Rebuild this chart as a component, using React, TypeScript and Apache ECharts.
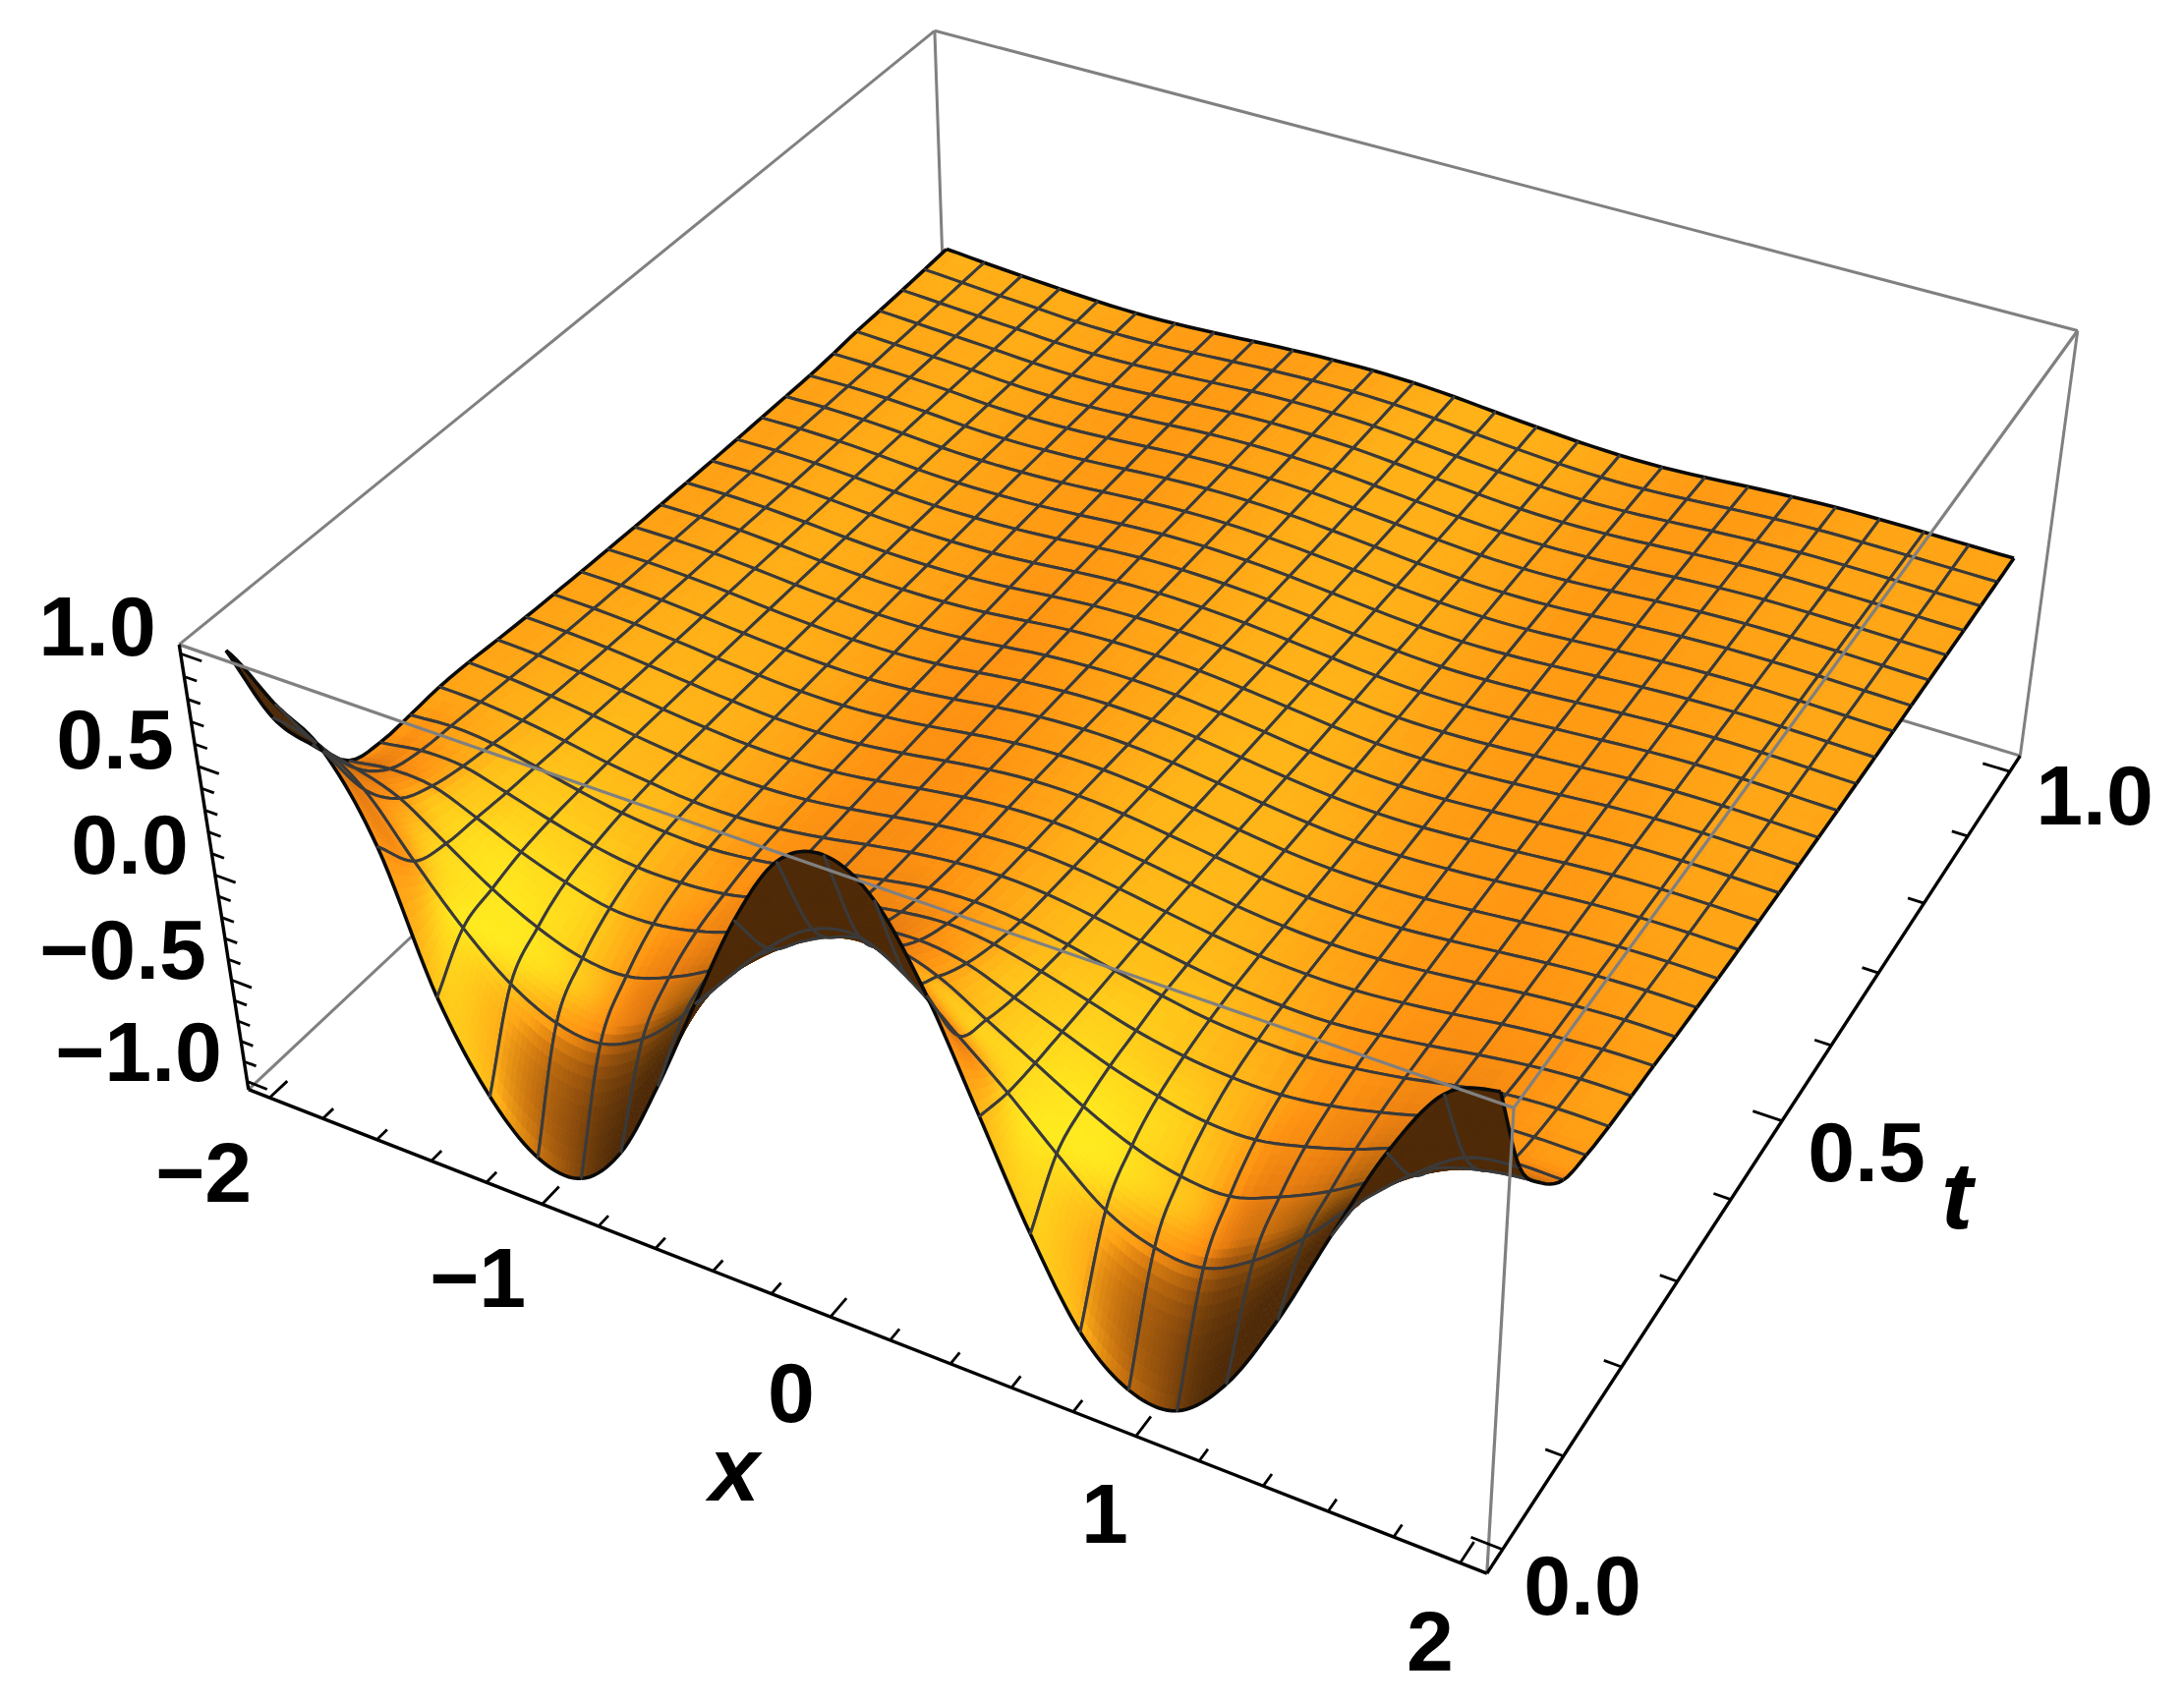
import React, { useEffect, useRef } from "react";
import * as echarts from "echarts";

// mesh positions along x and t
const xValues = [-2, -1.846, -1.692, -1.538, -1.385, -1.231, -1.077, -0.923, -0.769, -0.615, -0.462, -0.308, -0.154, 0, 0.154, 0.308, 0.462, 0.615, 0.769, 0.923, 1.077, 1.231, 1.385, 1.538, 1.692, 1.846, 2];
const tValues = [0, 0.0385, 0.0769, 0.1154, 0.1538, 0.1923, 0.2308, 0.2692, 0.3077, 0.3462, 0.3846, 0.4231, 0.4615, 0.5, 0.5385, 0.5769, 0.6154, 0.6538, 0.6923, 0.7308, 0.7692, 0.8077, 0.8462, 0.8846, 0.9231, 0.9615, 1];

// surface height, one row per t value
const zRows = [
  [0.97, 0.8, 0.66, 0.3, -0.33, -0.73, -0.95, -0.97, -0.76, -0.36, 0.1, 0.55, 0.88, 0.98, 0.86, 0.52, 0.06, -0.4, -0.78, -0.97, -0.98, -0.76, -0.37, 0.1, 0.55, 0.88, 0.97],
  [0.55, 0.5, 0.36, 0.1, -0.14, -0.33, -0.44, -0.46, -0.36, -0.17, 0.07, 0.29, 0.45, 0.49, 0.38, 0.2, 0.02, -0.18, -0.36, -0.45, -0.46, -0.34, -0.15, 0.09, 0.3, 0.46, 0.5],
  [0.3, 0.26, 0.19, 0.05, -0.09, -0.2, -0.27, -0.28, -0.21, -0.1, 0.04, 0.18, 0.28, 0.31, 0.25, 0.13, 0.01, -0.11, -0.21, -0.27, -0.28, -0.2, -0.09, 0.05, 0.18, 0.25, 0.28],
  [0.1, 0.13, 0.12, 0.04, -0.05, -0.12, -0.17, -0.17, -0.13, -0.06, 0.03, 0.11, 0.18, 0.2, 0.17, 0.09, 0.01, -0.07, -0.13, -0.17, -0.17, -0.12, -0.05, 0.04, 0.12, 0.14, 0.14],
  [0.06, 0.09, 0.085, 0.03, -0.03, -0.08, -0.11, -0.11, -0.09, -0.04, 0.02, 0.08, 0.12, 0.14, 0.12, 0.07, 0.01, -0.05, -0.09, -0.11, -0.11, -0.08, -0.03, 0.03, 0.085, 0.1, 0.1],
  [0.065, 0.08, 0.065, 0.025, -0.02, -0.055, -0.075, -0.08, -0.06, -0.025, 0.02, 0.06, 0.095, 0.105, 0.09, 0.055, 0.01, -0.03, -0.065, -0.08, -0.08, -0.055, -0.02, 0.025, 0.065, 0.08, 0.08],
  [0.075, 0.07, 0.05, 0.02, -0.015, -0.04, -0.06, -0.062, -0.048, -0.018, 0.02, 0.055, 0.08, 0.09, 0.078, 0.048, 0.01, -0.025, -0.052, -0.065, -0.065, -0.045, -0.015, 0.02, 0.05, 0.068, 0.07],
  [0.07, 0.06, 0.042, 0.017, -0.012, -0.034, -0.05, -0.052, -0.04, -0.013, 0.02, 0.052, 0.075, 0.083, 0.07, 0.043, 0.009, -0.023, -0.047, -0.058, -0.056, -0.038, -0.012, 0.018, 0.042, 0.058, 0.062],
  [0.058, 0.05, 0.035, 0.014, -0.01, -0.03, -0.044, -0.046, -0.034, -0.008, 0.024, 0.054, 0.074, 0.078, 0.063, 0.036, 0.004, -0.026, -0.047, -0.055, -0.05, -0.032, -0.008, 0.018, 0.038, 0.05, 0.05],
  [0.048, 0.042, 0.03, 0.012, -0.009, -0.027, -0.04, -0.041, -0.029, -0.004, 0.027, 0.055, 0.072, 0.072, 0.056, 0.029, -0.001, -0.029, -0.047, -0.052, -0.045, -0.027, -0.004, 0.018, 0.035, 0.043, 0.042],
  [0.04, 0.036, 0.026, 0.01, -0.009, -0.025, -0.036, -0.037, -0.024, 0, 0.03, 0.055, 0.068, 0.066, 0.049, 0.022, -0.006, -0.032, -0.047, -0.049, -0.04, -0.022, -0.001, 0.019, 0.032, 0.037, 0.035],
  [0.033, 0.031, 0.023, 0.008, -0.009, -0.023, -0.032, -0.032, -0.019, 0.005, 0.033, 0.054, 0.063, 0.059, 0.042, 0.016, -0.011, -0.034, -0.047, -0.046, -0.035, -0.018, 0.002, 0.02, 0.03, 0.033, 0.03],
  [0.027, 0.027, 0.02, 0.007, -0.009, -0.021, -0.028, -0.027, -0.014, 0.01, 0.035, 0.052, 0.058, 0.052, 0.035, 0.01, -0.016, -0.036, -0.046, -0.043, -0.03, -0.014, 0.005, 0.021, 0.028, 0.029, 0.026],
  [0.022, 0.023, 0.018, 0.006, -0.009, -0.02, -0.025, -0.022, -0.009, 0.014, 0.037, 0.05, 0.053, 0.046, 0.028, 0.005, -0.02, -0.038, -0.045, -0.04, -0.026, -0.01, 0.008, 0.022, 0.027, 0.026, 0.022],
  [0.018, 0.02, 0.016, 0.005, -0.009, -0.019, -0.022, -0.018, -0.005, 0.017, 0.038, 0.048, 0.048, 0.04, 0.022, 0, -0.023, -0.039, -0.043, -0.036, -0.022, -0.006, 0.011, 0.022, 0.026, 0.023, 0.019],
  [0.015, 0.018, 0.014, 0.004, -0.009, -0.018, -0.02, -0.015, -0.001, 0.02, 0.038, 0.046, 0.044, 0.034, 0.016, -0.005, -0.026, -0.04, -0.041, -0.033, -0.018, -0.003, 0.013, 0.022, 0.024, 0.021, 0.016],
  [0.012, 0.016, 0.012, 0.003, -0.009, -0.017, -0.018, -0.012, 0.003, 0.022, 0.038, 0.044, 0.04, 0.029, 0.011, -0.009, -0.028, -0.04, -0.04, -0.03, -0.015, 0, 0.014, 0.022, 0.023, 0.018, 0.013],
  [0.01, 0.014, 0.011, 0.002, -0.01, -0.017, -0.016, -0.009, 0.006, 0.024, 0.038, 0.042, 0.037, 0.025, 0.007, -0.013, -0.03, -0.04, -0.038, -0.027, -0.012, 0.003, 0.015, 0.021, 0.021, 0.016, 0.011],
  [0.009, 0.013, 0.01, 0.001, -0.011, -0.017, -0.015, -0.007, 0.008, 0.025, 0.037, 0.04, 0.034, 0.021, 0.003, -0.016, -0.031, -0.04, -0.036, -0.024, -0.009, 0.005, 0.015, 0.02, 0.019, 0.014, 0.009],
  [0.008, 0.012, 0.009, 0, -0.012, -0.017, -0.014, -0.005, 0.01, 0.026, 0.036, 0.038, 0.031, 0.017, 0, -0.018, -0.032, -0.039, -0.035, -0.022, -0.007, 0.006, 0.015, 0.019, 0.017, 0.012, 0.007],
  [0.007, 0.011, 0.008, -0.001, -0.013, -0.018, -0.014, -0.004, 0.011, 0.026, 0.035, 0.036, 0.029, 0.014, -0.003, -0.02, -0.033, -0.038, -0.034, -0.021, -0.006, 0.007, 0.015, 0.017, 0.015, 0.01, 0.006],
  [0.012, 0.011, 0.007, -0.002, -0.014, -0.018, -0.014, -0.003, 0.012, 0.026, 0.034, 0.034, 0.027, 0.012, -0.005, -0.021, -0.034, -0.038, -0.033, -0.02, -0.005, 0.007, 0.014, 0.015, 0.013, 0.009, 0.005],
  [0.02, 0.012, 0.006, -0.003, -0.015, -0.019, -0.014, -0.002, 0.012, 0.026, 0.033, 0.033, 0.026, 0.011, -0.006, -0.022, -0.034, -0.038, -0.033, -0.021, -0.006, 0.006, 0.013, 0.013, 0.011, 0.007, 0.004],
  [0.022, 0.013, 0.005, -0.004, -0.015, -0.019, -0.014, -0.002, 0.012, 0.025, 0.032, 0.032, 0.026, 0.011, -0.006, -0.022, -0.034, -0.039, -0.034, -0.022, -0.008, 0.004, 0.011, 0.011, 0.009, 0.006, 0.003],
  [0.025, 0.015, 0.005, -0.004, -0.015, -0.019, -0.014, -0.002, 0.011, 0.024, 0.031, 0.032, 0.026, 0.012, -0.005, -0.021, -0.034, -0.04, -0.036, -0.024, -0.01, 0.002, 0.009, 0.01, 0.008, 0.005, 0.003],
  [0.03, 0.018, 0.006, -0.004, -0.015, -0.018, -0.014, -0.003, 0.01, 0.022, 0.03, 0.032, 0.027, 0.014, -0.004, -0.02, -0.033, -0.04, -0.038, -0.027, -0.013, -0.001, 0.007, 0.008, 0.007, 0.005, 0.003],
  [0.035, 0.02, 0.007, -0.004, -0.014, -0.018, -0.015, -0.005, 0.008, 0.02, 0.028, 0.032, 0.028, 0.016, -0.002, -0.018, -0.032, -0.04, -0.04, -0.03, -0.016, -0.004, 0.005, 0.007, 0.006, 0.004, 0.003],
];

const xTicks = [-2, -1.8, -1.6, -1.4, -1.2, -1, -0.8, -0.6, -0.4, -0.2, 0, 0.2, 0.4, 0.6, 0.8, 1, 1.2, 1.4, 1.6, 1.8, 2];
const tTicks = [0, 0.1, 0.2, 0.3, 0.4, 0.5, 0.6, 0.7, 0.8, 0.9, 1];
const zTicks = [-1, -0.9, -0.8, -0.7, -0.6, -0.5, -0.4, -0.3, -0.2, -0.1, 0, 0.1, 0.2, 0.3, 0.4, 0.5, 0.6, 0.7, 0.8, 0.9, 1];

const xMajor = [-2, -1, 0, 1, 2];
const tMajor = [0, 0.5, 1];
const zMajor = [-1, -0.5, 0, 0.5, 1];

const tickTexts = ["1.0", "0.5", "0.0", "\u22120.5", "\u22121.0", "\u22122", "\u22121", "0", "1", "2", "0.0", "0.5", "1.0"];
const tickTextPos = [[99, 637], [117, 752], [132, 859], [125, 966], [141, 1070], [207, 1193], [486, 1300], [805, 1417], [1124, 1540], [1455, 1670], [1610, 1613], [1899, 1172], [2131, 809]];

// the box is a little larger than the data range
const X0 = -2.08, X1 = 2.08, T0 = -0.025, T1 = 1.025, Z0 = -1.04, Z1 = 1.04;

// box corners (unit cube) and where they land in the picture, used to fit the camera
const cameraPoints = [
  [0, 0, 0, 253, 1108],
  [1, 0, 0, 1513, 1602],
  [1, 1, 0, 2055, 769],
  [0, 1, 1, 951, 31],
  [0, 0, 1, 182, 657],
  [1, 1, 1, 2114, 337],
  [1, 0, 1, 1540, 1126],
];

function fitCamera() {
  const n = 11;
  const M = Array.from({ length: n }, () => new Array(n + 1).fill(0));
  const addRow = (r: number[], b: number) => {
    for (let a = 0; a < n; a++) {
      for (let c = 0; c < n; c++) M[a][c] += r[a] * r[c];
      M[a][n] += r[a] * b;
    }
  };
  cameraPoints.forEach(([u, v, w, px, py]) => {
    const U = px / 1000, V = py / 1000;
    addRow([u, v, w, 1, 0, 0, 0, 0, -U * u, -U * v, -U * w], U);
    addRow([0, 0, 0, 0, u, v, w, 1, -V * u, -V * v, -V * w], V);
  });
  for (let c = 0; c < n; c++) {
    let best = c;
    for (let r = c + 1; r < n; r++) if (Math.abs(M[r][c]) > Math.abs(M[best][c])) best = r;
    [M[c], M[best]] = [M[best], M[c]];
    for (let r = 0; r < n; r++) {
      if (r === c) continue;
      const f = M[r][c] / M[c][c];
      for (let k = c; k <= n; k++) M[r][k] -= f * M[c][k];
    }
  }
  return M.map((row, i) => row[n] / row[i]);
}

const cam = fitCamera();

function project(x: number, t: number, z: number) {
  const u = (x - X0) / (X1 - X0), v = (t - T0) / (T1 - T0), w = (z - Z0) / (Z1 - Z0);
  const d = cam[8] * u + cam[9] * v + cam[10] * w + 1;
  return [
    (1000 * (cam[0] * u + cam[1] * v + cam[2] * w + cam[3])) / d,
    (1000 * (cam[4] * u + cam[5] * v + cam[6] * w + cam[7])) / d,
  ];
}

const spline = (a: number, b: number, c: number, d: number, s: number) =>
  0.5 * (2 * b + (c - a) * s + (2 * a - 5 * b + 4 * c - d) * s * s + (3 * b - a - 3 * c + d) * s * s * s);

const last = xValues.length - 1;
const lastT = tValues.length - 1;
const clampI = (i: number, m: number) => Math.max(0, Math.min(m, i));

function rowValue(j: number, i: number) {
  // keep the steep slope going at the front edge
  if (j < 0) return 2 * zRows[0][i] - zRows[1][i];
  return zRows[Math.min(lastT, j)][i];
}

// smooth the drawn facets between the mesh values, like a line series' smooth option
function heightAt(i: number, j: number, s: number, r: number) {
  const across = [-1, 0, 1, 2].map((dj) => {
    const rj = j + dj;
    return spline(
      rowValue(rj, clampI(i - 1, last)),
      rowValue(rj, i),
      rowValue(rj, clampI(i + 1, last)),
      rowValue(rj, clampI(i + 2, last)),
      s,
    );
  });
  return spline(across[0], across[1], across[2], across[3], r);
}

const ramp: number[][] = [
  [-0.2, 74, 40, 8],
  [0.2, 150, 85, 10],
  [0.5, 232, 125, 16],
  [0.66, 255, 148, 18],
  [0.76, 255, 168, 22],
  [0.86, 255, 195, 25],
  [1, 255, 235, 30],
];
const brown = [78, 42, 8];

function shade(zx: number, zt: number, top: boolean) {
  if (!top) return `rgb(${brown.join(",")})`;
  // slopes in box units: x spans 1, t spans 1, z spans 0.4
  const nx = -0.8 * zx, nt = -0.2 * zt, len = Math.hypot(nx, nt, 1);
  const L = (0.6 * nx - 0.3 * nt + 0.74) / len;
  const q = (1 + 0.35 * nx) / len;
  let k = 0;
  while (k < ramp.length - 2 && L > ramp[k + 1][0]) k++;
  const f = Math.max(0, Math.min(1, (L - ramp[k][0]) / (ramp[k + 1][0] - ramp[k][0])));
  const g = Math.max(0, Math.min(1, (q - 0.17) / 0.35));
  const c = [1, 2, 3].map((m) => ramp[k][m] + (ramp[k + 1][m] - ramp[k][m]) * f);
  const mix = c.map((v, m) => Math.round(brown[m] + (v - brown[m]) * g));
  return `rgb(${mix.join(",")})`;
}

const surfaceCells: number[][] = [];
for (let j = lastT - 1; j >= 0; j--) {
  for (let i = 0; i < last; i++) surfaceCells.push([i, j]);
}

function renderCell(params: any, api: any) {
  const i = api.value(0), j = api.value(1);
  const sub = j < 2 ? 10 : j < 4 ? 5 : 3;
  const x0 = xValues[i], x1 = xValues[i + 1], t0 = tValues[j], t1 = tValues[j + 1];
  const dx = (x1 - x0) / sub, dt = (t1 - t0) / sub;
  const H: number[][] = [];
  const P: number[][][] = [];
  for (let b = 0; b <= sub; b++) {
    H.push([]);
    P.push([]);
    for (let a = 0; a <= sub; a++) {
      const z = heightAt(i, j, a / sub, b / sub);
      H[b].push(z);
      P[b].push(api.coord(project(x0 + a * dx, t0 + b * dt, z)));
    }
  }
  const children: any[] = [];
  for (let b = sub - 1; b >= 0; b--) {
    for (let a = 0; a < sub; a++) {
      const pts = [P[b][a], P[b][a + 1], P[b + 1][a + 1], P[b + 1][a]];
      let area = 0;
      pts.forEach((p, k) => {
        const q = pts[(k + 1) % 4];
        area += p[0] * q[1] - q[0] * p[1];
      });
      const zx = (H[b][a + 1] + H[b + 1][a + 1] - H[b][a] - H[b + 1][a]) / (2 * dx);
      const zt = (H[b + 1][a] + H[b + 1][a + 1] - H[b][a] - H[b][a + 1]) / (2 * dt);
      const fill = shade(zx, zt, area < 0);
      children.push({ type: "polygon", shape: { points: pts }, style: { fill, stroke: fill, lineWidth: 0.8 } });
    }
  }
  const edge = (points: number[][], outer: boolean) =>
    children.push({
      type: "polyline",
      shape: { points },
      style: { fill: "none", stroke: outer ? "#0a0a0a" : "#3a3a3a", lineWidth: outer ? 3.6 : 3 },
    });
  edge(P[sub], j + 1 === lastT);
  edge(P[0], j === 0);
  edge(P.map((row) => row[0]), i === 0);
  edge(P.map((row) => row[sub]), i + 1 === last);
  return { type: "group", children };
}

function corner(a: number, b: number, c: number) {
  return [a ? X1 : X0, b ? T1 : T0, c ? Z1 : Z0];
}

// grey box edges behind the surface and in front of it, then the black axes
const backEdges = [
  [0, 0, 0, 0, 1, 0], [0, 1, 0, 1, 1, 0], [0, 1, 0, 0, 1, 1],
  [0, 0, 1, 0, 1, 1], [0, 1, 1, 1, 1, 1], [1, 1, 1, 1, 1, 0],
];
const frontEdges = [[0, 0, 1, 1, 0, 1], [1, 0, 1, 1, 1, 1], [1, 0, 1, 1, 0, 0]];
const axisEdges = [[0, 0, 1, 0, 0, 0], [0, 0, 0, 1, 0, 0], [1, 0, 0, 1, 1, 0]];

function edgeSeries(edges: number[][], color: string, width: number) {
  return {
    type: "custom",
    coordinateSystem: "cartesian2d",
    silent: true,
    clip: false,
    data: edges,
    renderItem: (params: any, api: any) => {
      const e = edges[params.dataIndex];
      const a = corner(e[0], e[1], e[2]), b = corner(e[3], e[4], e[5]);
      return {
        type: "line",
        shape: {
          x1: api.coord(project(a[0], a[1], a[2]))[0],
          y1: api.coord(project(a[0], a[1], a[2]))[1],
          x2: api.coord(project(b[0], b[1], b[2]))[0],
          y2: api.coord(project(b[0], b[1], b[2]))[1],
        },
        style: { stroke: color, lineWidth: width },
      };
    },
  };
}

// every tick as two box points: from the axis towards the inside
function tickSegments() {
  const out: number[][][] = [];
  xTicks.forEach((x) => {
    const len = xMajor.includes(x) ? 0.022 : 0.013;
    out.push([[x, T0, Z0], [x, T0 + len, Z0]]);
  });
  tTicks.forEach((t) => {
    const len = tMajor.includes(t) ? 0.095 : 0.055;
    out.push([[X1, t, Z0], [X1 - len, t, Z0]]);
  });
  zTicks.forEach((z) => {
    const len = zMajor.includes(z) ? 0.075 : 0.045;
    out.push([[X0, T0, z], [X0 + len, T0, z]]);
  });
  return out;
}
const tickList = tickSegments();

const App: React.FC = () => {
  const chartRef = useRef<HTMLDivElement>(null);

  useEffect(() => {
    if (!chartRef.current) return;
    document.body.style.margin = "0";
    const myChart = echarts.init(chartRef.current, null, { renderer: "svg" });

    const option: any = {
      animation: false,
      backgroundColor: "#ffffff",
      grid: { left: 0, right: 0, top: 0, bottom: 0 },
      xAxis: { type: "value", min: 0, max: 2222, show: false },
      yAxis: { type: "value", min: 0, max: 1732, inverse: true, show: false },
      series: [
        edgeSeries(backEdges, "#808080", 3),
        {
          type: "custom",
          coordinateSystem: "cartesian2d",
          silent: true,
          clip: false,
          data: surfaceCells,
          renderItem: renderCell,
        },
        edgeSeries(frontEdges, "#808080", 3.2),
        edgeSeries(axisEdges, "#000000", 3.4),
        {
          type: "custom",
          coordinateSystem: "cartesian2d",
          silent: true,
          clip: false,
          data: tickList.map((_, k) => [k]),
          renderItem: (params: any, api: any) => {
            const [a, b] = tickList[params.dataIndex];
            const p = api.coord(project(a[0], a[1], a[2]));
            const q = api.coord(project(b[0], b[1], b[2]));
            return {
              type: "line",
              shape: { x1: p[0], y1: p[1], x2: q[0], y2: q[1] },
              style: { stroke: "#000000", lineWidth: 2.8 },
            };
          },
        },
        {
          type: "custom",
          coordinateSystem: "cartesian2d",
          silent: true,
          clip: false,
          data: tickTexts.map((_, k) => [k]),
          renderItem: (params: any, api: any) => {
            const p = api.coord(tickTextPos[params.dataIndex]);
            return {
              type: "text",
              style: {
                text: tickTexts[params.dataIndex],
                x: p[0],
                y: p[1],
                align: "center",
                verticalAlign: "middle",
                fontFamily: "Liberation Sans",
                fontWeight: "bold",
                fontSize: 86,
                fill: "#000000",
              },
            };
          },
        },
      ],
      graphic: [
        {
          type: "text",
          x: 747,
          y: 1495,
          style: { text: "x", align: "center", verticalAlign: "middle", fontFamily: "Liberation Sans", fontWeight: "bold", fontStyle: "italic", fontSize: 92, fill: "#000000" },
        },
        {
          type: "text",
          x: 1991,
          y: 1216,
          style: { text: "t", align: "center", verticalAlign: "middle", fontFamily: "Liberation Sans", fontWeight: "bold", fontStyle: "italic", fontSize: 96, fill: "#000000" },
        },
      ],
    };

    myChart.setOption(option);

    return () => {
      myChart.dispose();
    };
  }, []);

  return <div ref={chartRef} style={{ width: 2222, height: 1732 }} />;
};

export default App;
